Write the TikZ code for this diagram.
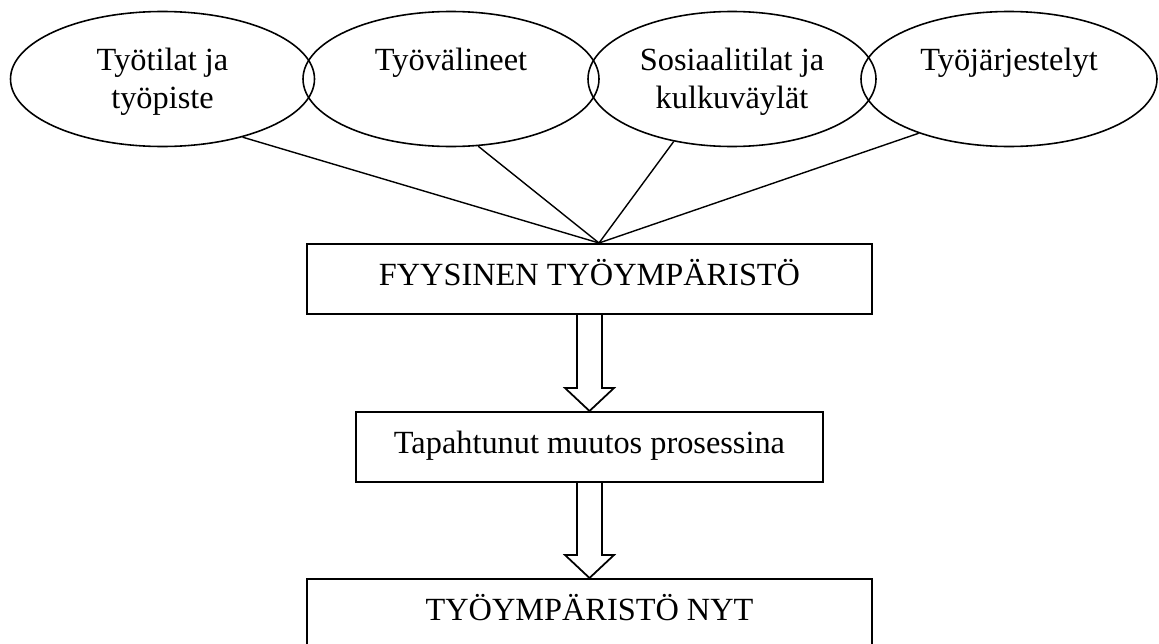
\documentclass[tikz,border=0pt]{standalone}
\usepackage{fontspec}
\setmainfont{Liberation Serif}
\usetikzlibrary{shapes.geometric,calc}

\newcommand{\nuoli}[2]{%
  \draw[nuoli] ($(#1.south)+(-0.25,0)$) -- ($(#2.north)+(-0.25,0.46)$) -- ($(#2.north)+(-0.49,0.46)$)
      -- (#2.north) -- ($(#2.north)+(0.49,0.46)$) -- ($(#2.north)+(0.25,0.46)$) -- ($(#1.south)+(0.25,0)$);}

\begin{document}
\begin{tikzpicture}[font=\fontsize{18.4}{21.2}\selectfont,
                    every alue/.style = {fill=none},
                    alue/.style = {ellipse, draw=black, line width=0.9pt, inner sep=0pt, minimum height=2.7cm, every alue},
                    aluteksti/.style = {anchor=north, align=center, inner sep=0pt},
                    kehys/.style = {rectangle, draw=black, line width=1.1pt, inner xsep=0pt, inner ysep=0pt,
                            text height=0.84cm, text depth=0.56cm, minimum width=11.3cm, anchor=north},
                    yhteys/.style = {-, line width=0.8pt},
                    nuoli/.style = {line width=1pt} ]

                \useasboundingbox (0,0) rectangle (23.18,12.86);

                % osa-alueet ylhaalla
                \node [alue, minimum width=6.08cm] (tyotilat) at (3.25,11.28) {};
                \node [alue, minimum width=5.92cm] (valineet) at (9.02,11.28) {};
                \node [alue, minimum width=5.76cm] (sosiaali) at (14.64,11.28) {};
                \node [alue, minimum width=5.92cm] (jarjestelyt) at (20.18,11.28) {};

                \node [aluteksti] (tyotilatteksti) at ($(tyotilat.center)+(0,0.62)$) {Työtilat ja\\työpiste};
                \node [aluteksti] (valineetteksti) at ($(valineet.center)+(0,0.62)$) {Työvälineet};
                \node [aluteksti] (sosiaaliteksti) at ($(sosiaali.center)+(0,0.62)$) {Sosiaalitilat ja\\kulkuväylät};
                \node [aluteksti] (jarjestelytteksti) at ($(jarjestelyt.center)+(0,0.62)$) {Työjärjestelyt};

                % laatikot
                \node [kehys] (fyysinen) at (11.79,8.0) {FYYSINEN TYÖYMPÄRISTÖ};
                \node [kehys, minimum width=9.34cm] (muutos) at (11.79,4.64) {Tapahtunut muutos prosessina};
                \node [kehys, text depth=1.5cm] (nyt) at (11.79,1.3) {TYÖYMPÄRISTÖ NYT};

                \coordinate (yhtyma) at ($(fyysinen.north)+(0.19,0)$);
                \draw [yhteys] (tyotilat.-36) -- (yhtyma);
                \draw [yhteys] (valineet.-68) -- (yhtyma);
                \draw [yhteys] (sosiaali.-133) -- (yhtyma);
                \draw [yhteys] (jarjestelyt.-149) -- (yhtyma);

                % nuolet
                \nuoli{fyysinen}{muutos}
                \nuoli{muutos}{nyt}
            \end{tikzpicture}
\end{document}
